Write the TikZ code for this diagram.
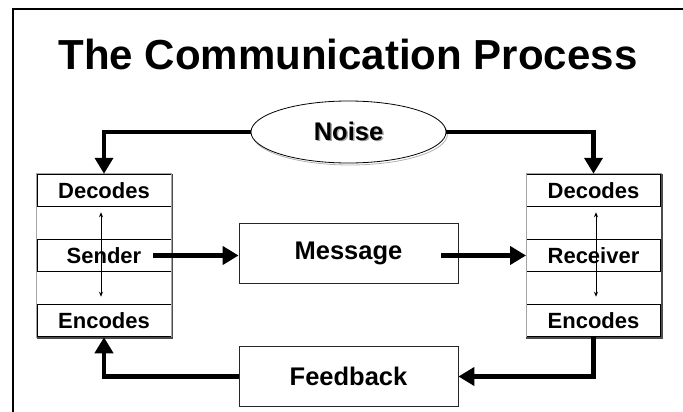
\documentclass[tikz,border=0pt]{standalone}
\usepackage{fontspec}
\setmainfont{Liberation Sans}
\usetikzlibrary{shapes,arrows,arrows.meta,positioning,calc}
\usetikzlibrary{shapes.geometric}

\newcommand{\shadowed}[1]{\makebox[0pt][l]{\kern1.5pt\raisebox{-1.5pt}{\textcolor{gray!70}{#1}}}#1}

\begin{document}
\begin{tikzpicture}[x=1pt,y=-1pt,
	flow/.style={line width=4.5pt,-{Triangle[length=16pt,width=18pt]}},
	row/.style={draw,line width=0.9pt,minimum width=134pt,minimum height=32.6pt,inner sep=0pt,font=\fontsize{22}{24}\selectfont\bfseries},
	midbox/.style={draw=black!85,line width=0.8pt,minimum width=219pt,minimum height=60pt,inner sep=0pt,font=\fontsize{25.5}{28}\selectfont\bfseries},
	noisebox/.style={ellipse,line width=0.8pt,minimum width=195pt,minimum height=62pt,inner sep=0pt,font=\fontsize{25.5}{28}\selectfont\bfseries},
	both/.style={line width=1pt,{Stealth[length=5pt,width=4pt]}-{Stealth[length=5pt,width=4pt]},shorten <=5pt,shorten >=7pt},
	frame/.style={draw=gray!70,line width=0.8pt},
	edge/.style={draw=black!70,line width=1.6pt}]
		\useasboundingbox (0,0) rectangle (683,412);
		\draw [line width=2pt] (13,412) -- (13,9) -- (683,9);
		\node [anchor=base,font=\fontsize{42}{46}\selectfont\bfseries] (title) at (348,70) {The Communication Process};
		\node [noisebox,draw=gray!60] (noiseshade) at (350,134) {};
		\node [noisebox,draw,fill=white] (noise) at (348.5,132) {\shadowed{Noise}};
		\node [row] (sdec) at (104,190.5) {Decodes};
		\node [row] (ssnd) at (104,255.5) {Sender};
		\node [row] (senc) at (104,320.5) {Encodes};
		\node [row] (rdec) at (593.5,190.5) {Decodes};
		\node [row] (rrcv) at (593.5,255.5) {Receiver};
		\node [row] (renc) at (593.5,320.5) {Encodes};
		\draw [frame] (sdec.north west) rectangle (senc.south east);
		\draw [frame] (rdec.north west) rectangle (renc.south east);
		\draw [edge] ([xshift=1pt]sdec.north east) -- ([xshift=1pt,yshift=-1pt]senc.south east) -- ([yshift=-1pt]senc.south west);
		\draw [edge] ([xshift=1pt]rdec.north east) -- ([xshift=1pt,yshift=-1pt]renc.south east) -- ([yshift=-1pt]renc.south west);
		\draw [both] ([xshift=-3pt]sdec.south) -- ([xshift=-3pt]senc.north);
		\draw [both] ([xshift=2.5pt]rdec.south) -- ([xshift=2.5pt]renc.north);
		\node [midbox] (msg) at (348.5,253) {Message};
		\node [midbox] (fb) at (348.5,376.5) {Feedback};
		\draw [flow] (noise.west) -| (sdec.north);
		\draw [flow] (noise.east) -| (rdec.north);
		\draw [flow] ([xshift=-18pt]ssnd.east) -- (ssnd.east -| msg.west);
		\draw [flow] ([xshift=-17pt]msg.east |- ssnd.east) -- (rrcv.west);
		\draw [flow] (renc.south) |- (fb.east);
		\draw [flow] (fb.west) -| (senc.south);
\end{tikzpicture}
\end{document}
